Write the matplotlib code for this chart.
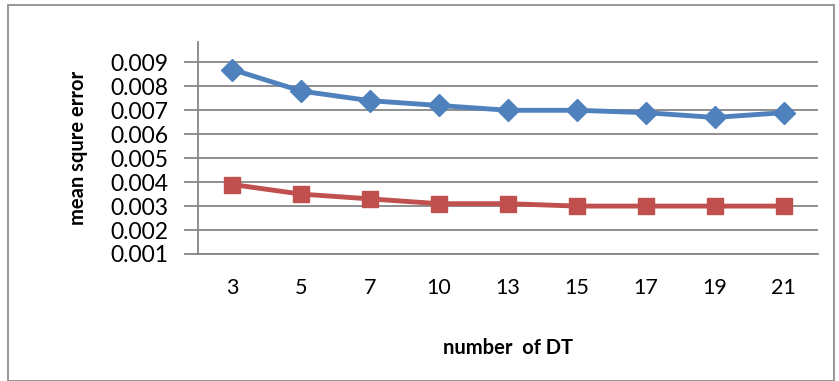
import matplotlib.pyplot as plt
from matplotlib.patches import Rectangle

# data
n_trees = ['3', '5', '7', '10', '13', '15', '17', '19', '21']
mse_a = [0.0087, 0.0078, 0.0074, 0.0072, 0.0070, 0.0070, 0.0069, 0.0067, 0.0069]
mse_b = [0.0039, 0.0035, 0.0033, 0.0031, 0.0031, 0.0030, 0.0030, 0.0030, 0.0030]
y_ticks = [0.001, 0.002, 0.003, 0.004, 0.005, 0.006, 0.007, 0.008, 0.009]

plt.rcParams['font.family'] = ['Lato', 'DejaVu Sans']

fig = plt.figure(figsize=(8.39, 3.81), dpi=100)
# outer chart border
fig.patches.append(Rectangle((8 / 839, 0.0), 826 / 839, 376 / 381,
                             transform=fig.transFigure, fill=False,
                             edgecolor='#868686', linewidth=1.2))

ax = fig.add_axes([198 / 839, 1 - 254 / 381, 620 / 839, 212 / 381])

x = list(range(len(n_trees)))
ax.plot(x, mse_a, color='#4F81BD', linewidth=3.5, marker='D', markersize=11,
        zorder=3, clip_on=False)
ax.plot(x, mse_b, color='#C0504D', linewidth=3.5, marker='s', markersize=12,
        zorder=3, clip_on=False)

ax.set_xlim(-0.5, len(n_trees) - 0.5)
ax.set_ylim(0.001, 0.00985)
ax.set_yticks(y_ticks)
ax.set_yticklabels([f'{v:.3f}' for v in y_ticks])
ax.set_xticks(x)
ax.set_xticklabels(n_trees)

ax.grid(axis='y', color='#868686', linewidth=1.3)
ax.set_axisbelow(True)
for side in ['top', 'right']:
    ax.spines[side].set_visible(False)
for side in ['left', 'bottom']:
    ax.spines[side].set_color('#868686')
    ax.spines[side].set_linewidth(1.3)

ax.tick_params(axis='y', length=10, width=1.3, color='#868686', labelsize=16.5, pad=11)
ax.tick_params(axis='x', length=0, labelsize=15.5, pad=17)

ax.set_ylabel('mean squre error', fontsize=14.5, fontweight='bold', labelpad=16)
ax.set_xlabel('number  of DT', fontsize=14.5, fontweight='bold', labelpad=29)

fig.savefig('out.png', dpi=100)
